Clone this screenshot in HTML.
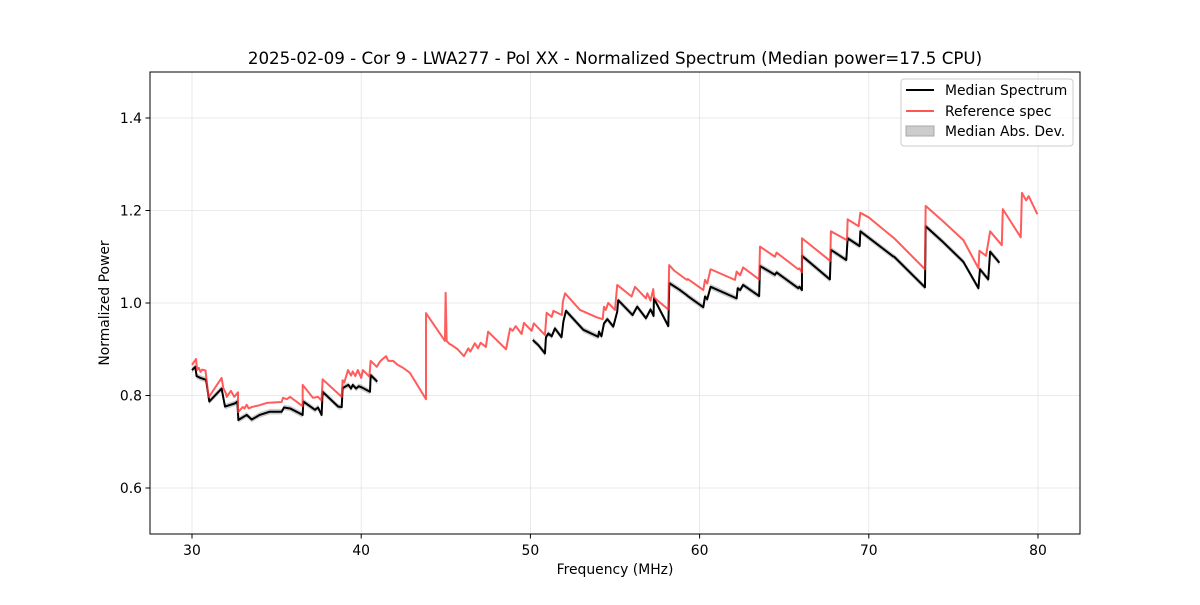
<!DOCTYPE html>
<html><head><meta charset="utf-8"><style>
body{margin:0;background:#fff;font-family:"Liberation Sans","DejaVu Sans",sans-serif}
svg text{font-family:"DejaVu Sans","Liberation Sans",sans-serif}
</style></head><body>
<svg id="chart" width="1200" height="600" viewBox="0 0 1200 600" xmlns="http://www.w3.org/2000/svg">
<rect width="1200" height="600" fill="#fff"/>
<text x="615" y="64" font-size="16.7" text-anchor="middle">2025-02-09 - Cor 9 - LWA277 - Pol XX - Normalized Spectrum (Median power=17.5 CPU)</text>
<g id="grid"></g>
<g id="band"></g>
<g id="lines"></g>
<rect x="150" y="72" width="930" height="462" fill="none" stroke="#000" stroke-width="1"/>
<g id="ticks"></g>
<text x="615" y="574" font-size="13.9" text-anchor="middle">Frequency (MHz)</text>
<text transform="translate(109,303) rotate(-90)" font-size="13.9" text-anchor="middle">Normalized Power</text>
<g>
<rect x="901" y="79" width="172" height="67" rx="3" fill="#fff" fill-opacity="0.8" stroke="#ccc"/>
<line x1="906" y1="90" x2="934" y2="90" stroke="#000" stroke-width="2"/>
<text x="945" y="95" font-size="13.9">Median Spectrum</text>
<line x1="906" y1="111" x2="934" y2="111" stroke="#ff5555" stroke-width="2"/>
<text x="945" y="116" font-size="13.9">Reference spec</text>
<rect x="906" y="126" width="28" height="10" fill="#cccccc" stroke="#aaa"/>
<text x="945" y="136" font-size="13.9">Median Abs. Dev.</text>
</g>
</svg>
<script>
const xTicks=[30,40,50,60,70,80];
const yTicks=[0.6,0.8,1.0,1.2,1.4];
const yTickLabels=["0.6","0.8","1.0","1.2","1.4"];
const refFreq=[30.0,30.24,30.3,30.4,30.5,30.6,30.8,30.95,31.0,31.75,31.85,32.0,32.05,32.3,32.5,32.72,32.72,33.0,33.1,33.23,33.35,33.53,34.0,34.42,35.3,35.38,35.6,35.8,36.54,36.54,37.15,37.45,37.66,37.72,38.85,38.9,39.0,39.22,39.4,39.5,39.65,39.8,40.0,40.1,40.48,40.56,40.92,41.1,41.27,41.47,41.6,41.88,42.17,42.47,42.88,43.83,43.83,44.95,44.99,45.05,45.2,45.3,45.43,45.7,46.07,46.33,46.45,46.72,46.9,47.06,47.37,47.5,48.56,48.8,48.95,49.13,49.48,49.62,50.07,50.2,50.86,50.96,51.26,51.36,51.86,51.92,52.05,52.93,53.92,54.27,54.35,54.45,54.6,55.0,55.13,55.98,56.18,56.83,56.91,57.1,57.26,57.3,58.15,58.2,58.5,59.24,59.3,60.22,60.32,60.45,60.65,62.09,62.19,62.4,62.57,63.52,63.57,64.45,64.55,65.83,65.9,66.05,66.05,67.72,67.76,68.71,68.75,69.4,69.5,70.0,71.43,71.5,73.32,73.36,74.41,75.59,76.48,76.54,76.93,77.17,77.86,77.92,78.98,79.05,79.3,79.45,79.96];
const refValue=[0.866,0.879,0.855,0.86,0.851,0.856,0.854,0.805,0.797,0.838,0.816,0.805,0.797,0.81,0.797,0.807,0.764,0.775,0.772,0.78,0.772,0.775,0.779,0.784,0.786,0.795,0.792,0.797,0.777,0.823,0.795,0.797,0.789,0.835,0.797,0.833,0.828,0.855,0.843,0.852,0.842,0.855,0.838,0.855,0.841,0.875,0.862,0.873,0.879,0.885,0.875,0.875,0.866,0.86,0.849,0.792,0.978,0.918,1.022,0.918,0.912,0.91,0.907,0.9,0.885,0.902,0.895,0.913,0.902,0.914,0.905,0.938,0.9,0.945,0.94,0.95,0.933,0.957,0.94,0.956,0.931,0.979,0.97,0.983,0.974,1.003,1.021,0.985,0.969,0.965,0.992,0.985,1.0,0.985,1.039,1.014,1.035,1.01,1.021,1.005,1.03,1.012,0.986,1.082,1.07,1.05,1.052,1.028,1.05,1.042,1.073,1.05,1.068,1.06,1.077,1.051,1.122,1.1,1.109,1.073,1.075,1.066,1.14,1.091,1.155,1.136,1.181,1.166,1.195,1.185,1.142,1.14,1.073,1.21,1.176,1.136,1.075,1.113,1.102,1.155,1.125,1.203,1.142,1.238,1.222,1.231,1.192];
const medFreq=[30.0,30.2,30.27,30.5,30.83,31.02,31.75,31.95,32.54,32.68,32.74,33.23,33.53,34.0,34.6,35.3,35.44,35.8,36.38,36.54,36.58,37.27,37.45,37.66,37.72,38.64,38.85,38.9,39.24,39.4,39.5,39.7,39.85,40.0,40.52,40.56,40.95,null,50.14,50.47,50.86,50.92,51.06,51.26,51.45,51.84,51.95,52.1,53.13,54.01,54.05,54.2,54.35,54.55,54.7,54.9,55.13,55.19,56.04,56.31,56.83,57.1,57.28,57.3,58.15,58.21,58.84,59.24,59.3,60.22,60.32,60.45,60.65,62.19,62.25,62.4,62.57,63.52,63.57,64.45,64.55,65.83,65.9,66.05,66.05,67.7,67.76,68.67,68.75,69.46,69.5,71.43,71.5,73.32,73.36,74.41,75.59,76.48,76.57,77.06,77.17,77.72];
const medValue=[0.855,0.862,0.842,0.838,0.834,0.787,0.815,0.776,0.783,0.787,0.747,0.758,0.748,0.758,0.765,0.765,0.774,0.772,0.761,0.758,0.787,0.769,0.774,0.758,0.808,0.776,0.775,0.816,0.823,0.815,0.823,0.815,0.82,0.818,0.808,0.844,0.83,null,0.92,0.909,0.891,0.926,0.934,0.928,0.945,0.926,0.96,0.983,0.942,0.927,0.938,0.928,0.956,0.965,0.958,0.949,0.981,1.006,0.974,0.992,0.967,0.986,0.972,1.01,0.95,1.043,1.028,1.017,1.015,0.991,1.014,1.008,1.035,1.01,1.032,1.028,1.039,1.015,1.08,1.061,1.066,1.032,1.035,1.028,1.102,1.051,1.115,1.093,1.14,1.123,1.155,1.101,1.1,1.034,1.166,1.131,1.089,1.032,1.073,1.051,1.111,1.087];
const madLevel=[0.006];

const X=f=>192+(f-30)*16.92;
const Y=v=>488-(v-0.6)*462.5;
const NS="http://www.w3.org/2000/svg";
function mk(tag,attrs,parent){const e=document.createElementNS(NS,tag);for(const k in attrs)e.setAttribute(k,attrs[k]);parent.appendChild(e);return e;}
const grid=document.getElementById('grid'),ticks=document.getElementById('ticks');
xTicks.forEach(t=>{
 const g=mk('line',{x1:X(t),x2:X(t),y1:72,y2:534,stroke:'#e3e3e3','stroke-width':0.8},grid);
 
 
 const tk=mk('line',{x1:X(t),x2:X(t),y1:534,y2:538.5,stroke:'#000'},ticks);
 
 
 const tx=mk('text',{x:X(t),y:555,'font-size':13.9,'text-anchor':'middle'},ticks);tx.textContent=t;
 
 
});
yTicks.forEach((t,i)=>{
 const g=mk('line',{x1:150,x2:1080,y1:Y(t),y2:Y(t),stroke:'#e3e3e3','stroke-width':0.8},grid);
 
 
 const tk=mk('line',{x1:145.5,x2:150,y1:Y(t),y2:Y(t),stroke:'#000'},ticks);
 
 
 const tx=mk('text',{x:142,y:Y(t)+5,'font-size':13.9,'text-anchor':'end'},ticks);tx.textContent=yTickLabels[i];
 
 
});
function segments(fs,vs){const segs=[];let cur=[];fs.forEach((f,i)=>{if(f===null||vs[i]===null){if(cur.length)segs.push(cur);cur=[];}else cur.push([f,vs[i]]);});if(cur.length)segs.push(cur);return segs;}
const band=document.getElementById('band'),lines=document.getElementById('lines');
segments(medFreq,medValue).forEach(s=>{
 const m=madLevel[0];
 const up=s.map(p=>X(p[0])+','+Y(p[1]+m));
 const dn=s.slice().reverse().map(p=>X(p[0])+','+Y(p[1]-m));
 const b=mk('polygon',{points:up.concat(dn).join(' '),fill:'#000','fill-opacity':0.2},band);
 
 
 const l=mk('polyline',{points:s.map(p=>X(p[0])+','+Y(p[1])).join(' '),fill:'none',stroke:'#000','stroke-width':2,'stroke-linejoin':'round'},lines);
 
 
});
segments(refFreq,refValue).forEach(s=>{
 const l=mk('polyline',{points:s.map(p=>X(p[0])+','+Y(p[1])).join(' '),fill:'none',stroke:'#ff3333','stroke-opacity':0.8,'stroke-width':2,'stroke-linejoin':'round'},lines);
 
 
});
</script>
</body></html>
